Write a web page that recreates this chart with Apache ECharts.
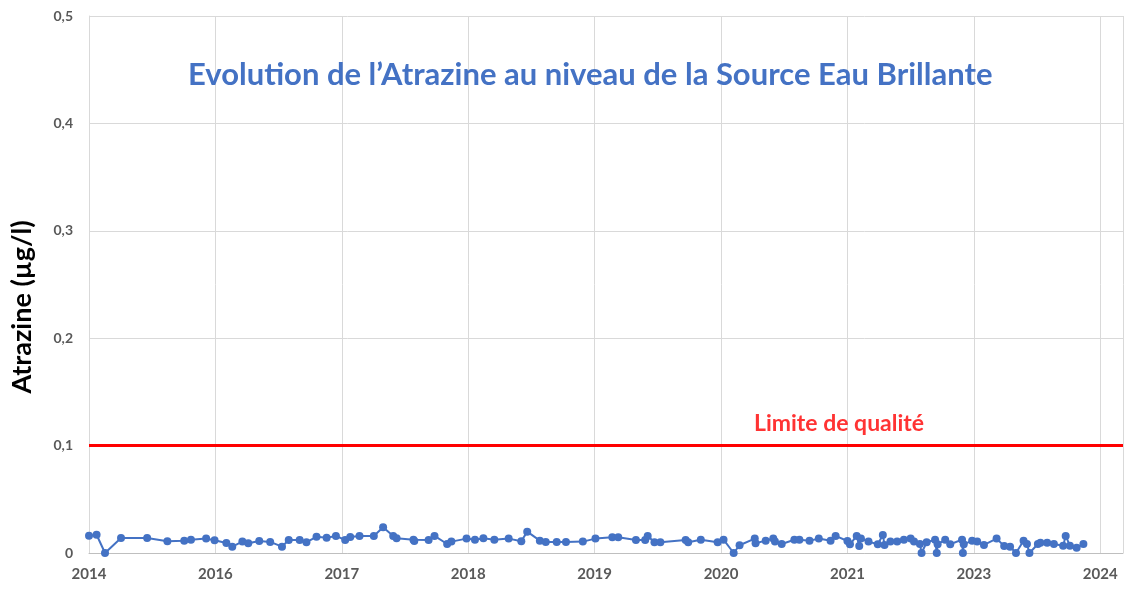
<!DOCTYPE html>
<html>
<head>
<meta charset="utf-8">
<script src="https://cdn.jsdelivr.net/npm/echarts@6/dist/echarts.min.js"></script>
<style>
html,body{margin:0;padding:0;background:#fff;}
#chart{width:1126px;height:589px;}
</style>
</head>
<body>
<div id="chart"></div>
<script>
// x positions: months elapsed since the "2014" tick; one tick every 15 months
const xTickLabels = ["2014","2016","2017","2018","2019","2020","2021","2023","2024"];
const yTickLabels = ["0","0,1","0,2","0,3","0,4","0,5"];
const months = [0,0.9,1.9,3.8,6.9,9.3,11.3,12.1,13.9,14.9,16.3,17.0,18.2,18.9,20.2,21.5,22.9,23.7,25.0,25.8,27.0,28.2,29.3,30.4,31.0,32.1,33.8,34.9,36.1,36.5,38.5,38.6,40.3,41.0,42.5,43.0,44.8,45.8,46.8,48.1,49.8,51.3,52.0,53.5,54.2,55.5,56.6,58.6,60.1,62.1,62.8,64.9,66.0,66.3,67.1,67.8,70.8,71.1,72.6,74.6,75.3,76.5,77.2,79.0,79.1,80.3,81.2,81.4,82.2,83.7,84.3,85.5,86.6,88.0,88.6,90.0,90.3,91.1,91.4,91.6,92.5,93.6,94.2,94.4,95.1,95.9,96.7,97.5,97.9,98.6,98.8,99.4,100.4,100.6,100.7,101.6,102.2,103.6,103.7,103.8,104.8,105.4,106.2,107.7,108.6,109.3,110.0,110.9,111.3,111.6,112.6,112.9,113.7,114.5,115.6,115.9,116.4,117.2,118.0];
const atrazine = [0.016,0.017,0,0.014,0.014,0.011,0.0115,0.0124,0.0134,0.0119,0.0093,0.0059,0.0106,0.0091,0.0112,0.0103,0.0059,0.0121,0.0121,0.010,0.0152,0.0143,0.0159,0.0121,0.015,0.0159,0.0159,0.024,0.0159,0.0137,0.0124,0.0112,0.0121,0.0159,0.0084,0.0106,0.0134,0.0124,0.0137,0.0124,0.0134,0.0109,0.0199,0.0115,0.0103,0.0103,0.0103,0.0106,0.0134,0.0147,0.0147,0.0121,0.0121,0.0159,0.010,0.010,0.0121,0.010,0.0124,0.010,0.0124,0,0.0072,0.0134,0.0091,0.0115,0.0134,0.0106,0.0084,0.0124,0.0124,0.0115,0.0134,0.0115,0.0159,0.0112,0.0081,0.0159,0.0065,0.0134,0.0106,0.0081,0.0168,0.0075,0.0106,0.0106,0.0124,0.0134,0.0106,0.0084,0,0.010,0.0124,0,0.0081,0.0124,0.0081,0.0124,0,0.0081,0.0115,0.0106,0.0075,0.0134,0.0065,0.0059,0,0.0115,0.0084,0,0.0084,0.0096,0.0096,0.0084,0.0068,0.0159,0.0068,0.005,0.0084];
const qualityLimit = 0.1;
const limitLabel = "Limite de qualité";
const limitLabelMonth = 89;
const xMax = 122.7;

const titleText = "Evolution de l\u2019Atrazine au niveau de la Source Eau Brillante";
const yName = "Atrazine (\u00b5g/l)";

const chart = echarts.init(document.getElementById('chart'), null, {renderer:'canvas'});
const font = "Lato, 'Open Sans', sans-serif";
chart.setOption({
  animation:false,
  backgroundColor:'#ffffff',
  title:{
    text:titleText, left:183, top:54,
    textStyle:{color:'#4472C4', fontFamily:font, fontWeight:'bold', fontSize:31}
  },
  graphic:[{
    type:'text', x:22, y:307, rotation:Math.PI/2,
    style:{text:yName, fill:'#000', font:"bold 27px Lato, 'Open Sans', sans-serif",
      textAlign:'center', textVerticalAlign:'middle'}
  }],
  grid:{left:89, right:2, top:16, bottom:36, containLabel:false},
  xAxis:{
    type:'value', min:0, max:xMax, interval:15,
    axisLine:{show:true, lineStyle:{color:'#BFBFBF', width:1}},
    axisTick:{show:false},
    splitLine:{show:true, lineStyle:{color:'#D9D9D9', width:1}},
    axisLabel:{
      margin:14, color:'#595959', fontFamily:font, fontWeight:'bold', fontSize:15,
      formatter:function(v){ const i = Math.round(v/15); return Math.abs(v - i*15) < 1e-6 && xTickLabels[i] !== undefined ? xTickLabels[i] : ''; }
    }
  },
  yAxis:{
    type:'value', min:0, max:0.5, interval:0.1,
    axisLine:{show:true, lineStyle:{color:'#D9D9D9'}},
    axisTick:{show:false},
    splitLine:{show:true, lineStyle:{color:'#D9D9D9', width:1}},
    axisLabel:{
      margin:16, color:'#595959', fontFamily:font, fontWeight:'bold', fontSize:14,
      formatter:function(v){ return yTickLabels[Math.round(v*10)]; }
    }
  },
  series:[
    {
      name:'Limite', type:'line',
      data:[[0,qualityLimit],[xMax,qualityLimit]],
      symbol:'none', lineStyle:{color:'#FF0000', width:3}, z:3
    },
    {
      name:'LimiteLabel', type:'scatter',
      data:[[limitLabelMonth, qualityLimit]],
      symbolSize:0, silent:true,
      label:{show:true, position:'top', distance:11, formatter:limitLabel,
        color:'#FF0000', fontFamily:font, fontWeight:'bold', fontSize:23}
    },
    {
      name:'Atrazine', type:'line',
      data:months.map((m,i)=>[m, atrazine[i]]),
      symbol:'circle', symbolSize:8, showAllSymbol:true,
      itemStyle:{color:'#4472C4'},
      lineStyle:{color:'#4472C4', width:2}, z:4
    }
  ]
});
</script>
</body>
</html>
